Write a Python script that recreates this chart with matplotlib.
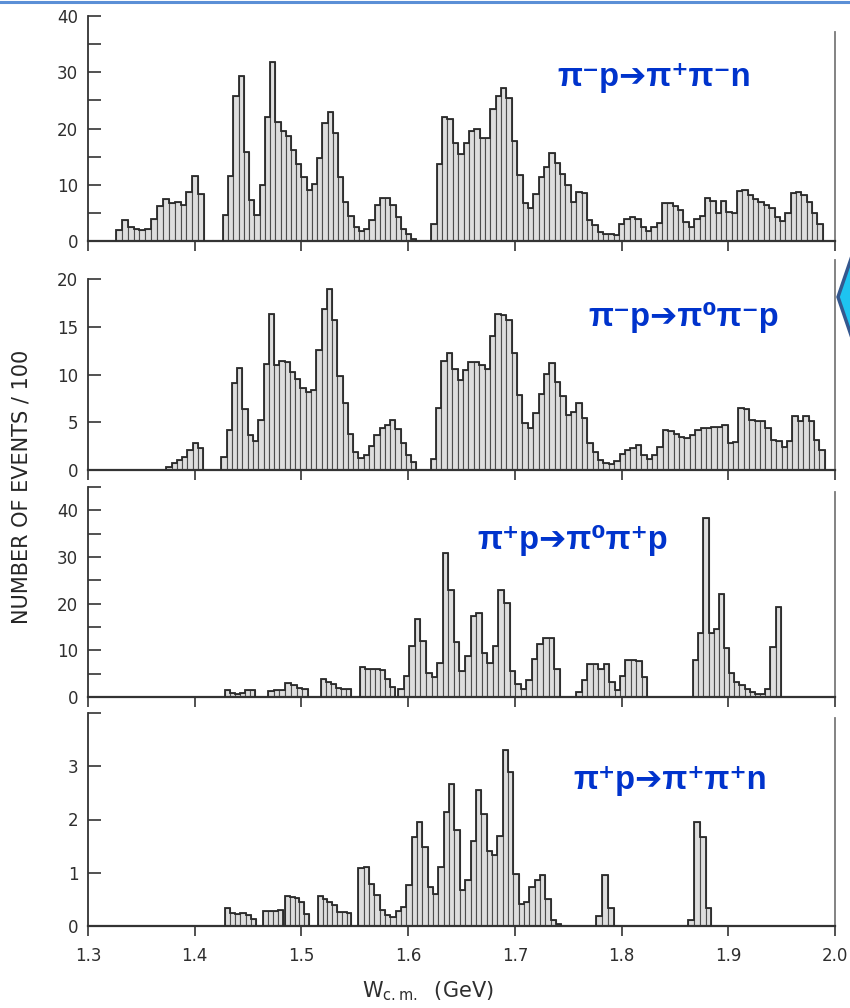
import numpy as np
import matplotlib.pyplot as plt
from matplotlib.lines import Line2D
from matplotlib.patches import Polygon

W, H = 850, 1008

# W_cm bins are given as runs of contiguous bins: start, end, counts (events/100)
p1_starts = [1.3262, 1.4265, 1.6218]
p1_ends = [1.4087, 1.6078, 1.9886]
p1_counts = [
    [2.0, 3.7, 2.5, 2.1, 2.0, 2.1, 4.0, 6.2, 7.4, 6.8, 7.0, 6.4, 8.7, 11.5, 8.3],
    [4.6, 11.5, 25.7, 29.4, 15.9, 7.3, 4.6, 9.9, 22.1, 31.8, 21.1, 19.6, 18.6, 16.2,
     13.7, 11.4, 9.0, 10.2, 14.7, 21.0, 22.9, 19.2, 11.4, 7.0, 4.4, 2.5, 1.8, 2.2,
     3.8, 6.4, 7.7, 7.7, 6.4, 4.2, 2.2, 1.3, 0.4],
    [3.0, 13.7, 22.1, 21.7, 17.4, 15.5, 17.4, 19.5, 19.9, 18.3, 18.3, 23.5, 25.8,
     27.2, 25.4, 17.7, 11.7, 6.7, 5.8, 8.3, 11.4, 13.2, 15.7, 13.8, 12.0, 9.9, 7.0,
     8.8, 8.5, 3.7, 2.8, 1.6, 1.3, 1.3, 1.0, 3.0, 4.0, 4.2, 4.0, 2.5, 1.8, 2.5, 3.2,
     6.7, 6.8, 6.2, 5.5, 3.4, 2.5, 4.0, 4.4, 7.6, 7.1, 4.9, 7.1, 5.2, 5.0, 8.9, 9.0,
     8.2, 7.4, 7.0, 6.4, 5.8, 4.3, 3.6, 4.9, 8.5, 8.8, 8.2, 7.0, 4.9, 3.1],
]

p2_starts = [1.3735, 1.4250, 1.6210]
p2_ends = [1.4078, 1.6078, 1.9904]
p2_counts = [
    [0.35, 0.7, 1.05, 1.4, 2.1, 2.8, 2.3],
    [1.4, 4.2, 9.1, 10.7, 6.4, 3.7, 3.0, 5.2, 11.1, 16.3, 11.0, 11.4, 11.3, 10.3,
     9.5, 8.6, 8.2, 8.4, 12.6, 16.9, 19.0, 15.7, 9.8, 7.0, 3.8, 1.9, 1.3, 1.6, 2.5,
     3.7, 4.4, 4.7, 5.2, 4.3, 2.8, 1.6, 0.8],
    [1.2, 6.5, 11.4, 12.2, 10.6, 9.4, 10.5, 11.3, 11.3, 11.0, 10.6, 14.0, 16.3, 16.2,
     15.7, 12.2, 7.9, 4.9, 4.4, 6.0, 8.0, 10.1, 11.2, 9.2, 7.7, 5.8, 6.1, 7.0, 5.4,
     2.8, 1.9, 1.0, 0.7, 0.6, 0.9, 1.7, 2.1, 2.3, 2.6, 1.6, 1.2, 1.6, 2.4, 4.2, 4.1,
     3.8, 3.5, 3.4, 3.7, 4.2, 4.4, 4.4, 4.5, 4.5, 4.7, 2.8, 2.9, 6.5, 6.4, 5.2, 5.1,
     5.1, 4.4, 3.1, 3.0, 2.4, 3.0, 5.7, 5.1, 5.7, 5.1, 3.1, 2.1],
]

p3_starts = [1.4280, 1.4687, 1.5187, 1.5550, 1.5906, 1.7577, 1.8670]
p3_ends = [1.4565, 1.5062, 1.5468, 1.5878, 1.7421, 1.8240, 1.9491]
p3_counts = [
    [1.6, 0.9, 0.7, 0.9, 1.4, 1.6],
    [1.3, 1.6, 1.6, 2.9, 2.6, 2.0, 1.8],
    [3.9, 3.2, 2.7, 2.0, 1.8, 1.8],
    [6.4, 6.1, 5.9, 5.9, 5.7, 3.9, 2.1],
    [1.8, 4.4, 10.9, 16.8, 12.0, 5.1, 4.3, 7.3, 30.9, 22.9, 11.8, 5.6, 8.7, 17.3,
     18.0, 9.4, 7.3, 10.9, 22.9, 20.1, 5.6, 2.7, 1.8, 3.7, 8.2, 11.4, 12.7, 12.7, 6.1],
    [1.1, 3.7, 7.0, 7.0, 5.9, 7.0, 3.2, 1.4, 4.6, 7.9, 7.9, 7.7, 4.3],
    [7.9, 13.7, 38.4, 13.7, 14.6, 22.1, 10.4, 5.1, 3.2, 2.5, 1.8, 1.1, 0.6, 0.7,
     1.8, 10.7, 19.3],
]

p4_starts = [1.4281, 1.4640, 1.4845, 1.5153, 1.5532, 1.7758, 1.8623]
p4_ends = [1.4574, 1.4823, 1.5073, 1.5468, 1.7437, 1.7927, 1.8842]
p4_counts = [
    [0.34, 0.24, 0.22, 0.24, 0.20, 0.14],
    [0.28, 0.28, 0.28, 0.30],
    [0.57, 0.55, 0.52, 0.45, 0.22],
    [0.57, 0.50, 0.45, 0.40, 0.26, 0.26, 0.24],
    [1.08, 1.11, 0.78, 0.58, 0.30, 0.20, 0.16, 0.28, 0.36, 0.77, 1.67, 1.95, 1.48,
     0.73, 0.61, 1.11, 2.15, 2.66, 1.80, 0.68, 0.86, 1.60, 2.55, 2.10, 1.40, 1.33,
     1.69, 3.30, 2.90, 0.98, 0.42, 0.46, 0.73, 0.86, 0.95, 0.50, 0.12, 0.03],
    [0.19, 0.96, 0.33],
    [0.12, 1.95, 1.68, 0.33],
]

reactions = ['π⁻p➔π⁺π⁻n', 'π⁻p➔π⁰π⁻p', 'π⁺p➔π⁰π⁺p', 'π⁺p➔π⁺π⁺n']

# panel layout in pixels: (y of zero line, y of top of axis, ymax)
panel_px = [(241, 16, 40), (470, 279, 20), (697, 487, 45), (926, 713, 4)]
right_spine_top = [32, 260, 492, 718]
label_pos = [(557, 86), (588, 326), (477, 549), (573, 789)]
x0_px, x1_px = 88, 835

ink = '#333333'

fig = plt.figure(figsize=(W / 100, H / 100), dpi=100)
fig.patch.set_facecolor('white')


def draw_hist(ax, starts, ends, counts):
    for s, e, c in zip(starts, ends, counts):
        edges = np.linspace(s, e, len(c) + 1)
        ax.bar(edges[:-1], c, width=np.diff(edges), align='edge',
               color='#dedede', edgecolor='#4d4d4d', linewidth=0.8, zorder=2)
        ax.stairs(c, edges, color='#2b2b2b', linewidth=1.3, zorder=3)


data = [(p1_starts, p1_ends, p1_counts), (p2_starts, p2_ends, p2_counts),
        (p3_starts, p3_ends, p3_counts), (p4_starts, p4_ends, p4_counts)]

for i, ((yz, yt, ymax), (st, en, ct)) in enumerate(zip(panel_px, data)):
    ax = fig.add_axes([x0_px / W, 1 - yz / H, (x1_px - x0_px) / W, (yz - yt) / H])
    draw_hist(ax, st, en, ct)
    ax.set_xlim(1.3, 2.0)
    ax.set_ylim(0, ymax)
    ax.set_facecolor('none')
    for side in ['top', 'right']:
        ax.spines[side].set_visible(False)
    ax.spines['left'].set_color(ink)
    ax.spines['left'].set_linewidth(1.3)
    ax.spines['bottom'].set_color(ink)
    ax.spines['bottom'].set_linewidth(1.6)
    frac = (yz - right_spine_top[i]) / (yz - yt)
    ax.plot([1, 1], [0, frac], transform=ax.transAxes, color='#7a7a7a',
            lw=1.3, clip_on=False)

    if i in (0, 2):
        ax.set_yticks([0, 10, 20, 30, 40])
        ax.set_yticks(np.arange(5, ymax + 1, 10), minor=True)
    elif i == 1:
        ax.set_yticks([0, 5, 10, 15, 20])
    else:
        ax.set_yticks([0, 1, 2, 3])
        ax.set_yticks([4], minor=True)
    ax.tick_params(axis='y', which='both', direction='in', length=9, width=1.2,
                   color=ink, pad=7, labelsize=12, labelcolor='#2e2e2e')
    ax.set_xticks(np.arange(13, 21) / 10)
    ax.tick_params(axis='x', direction='out', length=7, width=1.2, color=ink,
                   pad=8, labelsize=12, labelcolor='#2e2e2e')
    if i < 3:
        ax.tick_params(axis='x', labelbottom=False)
    else:
        ax.set_xticklabels(['1.3', '1.4', '1.5', '1.6', '1.7', '1.8', '1.9', '2.0'])

    lx, ly = label_pos[i]
    fig.text(lx / W, 1 - ly / H, reactions[i], color='#0033cc', fontsize=23.5,
             fontweight='bold', ha='left', va='baseline',
             family=['Liberation Sans', 'DejaVu Sans'])

fig.text(362 / W, 1 - 997 / H, r'W$_{\rm c.m.}$  (GeV)', fontsize=15,
         color='#2e2e2e', ha='left', va='baseline')
fig.text(22 / W, 1 - 487 / H, 'NUMBER OF EVENTS / 100', rotation=90,
         fontsize=15, color='#262626', ha='center', va='center')

# slide decoration: top rule and the clipped marker on the right edge
fig.add_artist(Line2D([0, 1], [1 - 1.5 / H, 1 - 1.5 / H], color='#5b8fd6',
                      lw=2.2, transform=fig.transFigure))
diamond = Polygon([(838 / W, 1 - 297 / H), (852 / W, 1 - 256 / H),
                   (852 / W, 1 - 338 / H)], closed=True, transform=fig.transFigure,
                  facecolor='#1ec3f0', edgecolor='#34588f', lw=2.5)
fig.add_artist(diamond)

fig.savefig('out.png', dpi=100)
